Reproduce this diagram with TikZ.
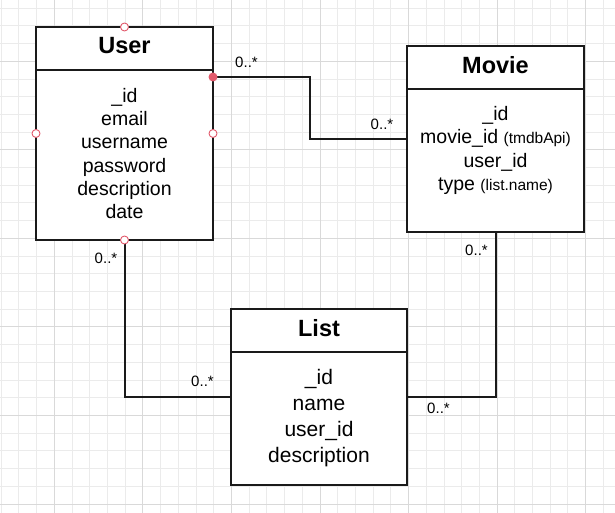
\documentclass[tikz,border=0pt]{standalone}
\usepackage{fontspec}
\setmainfont{Liberation Sans}
\definecolor{gridminor}{HTML}{EBEBEB}
\definecolor{gridmajor}{HTML}{D9D9D9}
\definecolor{linecol}{HTML}{1A1A1A}
\definecolor{portred}{HTML}{E25A6C}
\begin{document}
\begin{tikzpicture}[x=1pt,y=-1pt,
    headbox/.style={draw=linecol, line width=2pt, fill=white, minimum width=177pt,
      minimum height=43pt, inner sep=0pt, outer sep=0pt, text depth=6pt,
      font=\bfseries\fontsize{23.5}{28}\selectfont},
    attrbox/.style={draw=linecol, line width=2pt, fill=white, minimum width=177pt,
      inner sep=0pt, outer sep=0pt, anchor=north},
    attrlist/.style={align=center, inner sep=0pt, anchor=north},
    relline/.style={draw=linecol, line width=2pt},
    mult/.style={inner sep=0pt, font=\fontsize{15}{18}\selectfont},
    port/.style={circle, draw=portred, fill=white, line width=0.9pt, minimum size=8pt, inner sep=0pt},
    portdot/.style={circle, fill=portred, minimum size=9pt, inner sep=0pt}]
  \useasboundingbox (0,0) rectangle (615,513);
  \fill[white] (0,0) rectangle (615,513);
  % background grid
  \def\gridstep{17.71}
  \foreach \i in {0,...,34} {
    \draw[gridminor, line width=0.8pt] (1.17+\i*\gridstep, 0) -- (1.17+\i*\gridstep, 513);
  }
  \foreach \i in {0,...,28} {
    \draw[gridminor, line width=0.8pt] (0, 8.07+\i*\gridstep) -- (615, 8.07+\i*\gridstep);
  }
  \foreach \k in {0,...,6} {
    \draw[gridmajor, line width=0.8pt] (54.3+\k*5*\gridstep, 0) -- (54.3+\k*5*\gridstep, 513);
  }
  \foreach \k in {0,...,5} {
    \draw[gridmajor, line width=0.8pt] (0, 61.2+\k*5*\gridstep) -- (615, 61.2+\k*5*\gridstep);
  }

  % entities
  \node[headbox] (user) at (124.5,48.5) {User};
  \node[attrbox, minimum height=170pt] (userbody) at (user.south) {};
  \node[attrlist, font=\fontsize{19.5}{23.3}\selectfont] (userattr) at ([yshift=-18pt]userbody.north)
    {\_id\\email\\username\\password\\description\\date};

  \node[headbox] (movie) at (495.5,67.5) {Movie};
  \node[attrbox, minimum height=143pt] (moviebody) at (movie.south) {};
  \node[attrlist, font=\fontsize{19.5}{23.5}\selectfont] (movieattr) at ([yshift=-17pt]moviebody.north)
    {\_id\\movie\_id {\fontsize{15.5}{18}\selectfont (tmdbApi)}\\user\_id\\type {\fontsize{15.5}{18}\selectfont (list.name)}};

  \node[headbox, minimum width=176pt] (list) at (319,330.5) {List};
  \node[attrbox, minimum width=176pt, minimum height=133pt] (listbody) at (list.south) {};
  \node[attrlist, font=\fontsize{21}{26}\selectfont] (listattr) at ([yshift=-17pt]listbody.north)
    {\_id\\name\\user\_id\\description};

  % relations
  \coordinate (umv) at ([yshift=-7pt]userbody.north east);
  \coordinate (mvu) at ([yshift=-50pt]moviebody.north west);
  \coordinate (lsu) at ([yshift=-45pt]listbody.north west);
  \coordinate (lsm) at ([yshift=-45pt]listbody.north east);
  \draw[relline] (umv) -- ++(97,0) |- (mvu);
  \draw[relline] (userbody.south) |- (lsu);
  \draw[relline] (moviebody.south) |- (lsm);

  \node[mult] (m1) at (246.5,62.5) {0..*};
  \node[mult] (m2) at (382,124.5) {0..*};
  \node[mult] (m3) at (106,258) {0..*};
  \node[mult] (m4) at (202.5,381.5) {0..*};
  \node[mult] (m5) at (476.5,250) {0..*};
  \node[mult] (m6) at (438.5,408) {0..*};

  % connection points
  \node[port] (pt) at (user.north) {};
  \node[port] (pb) at (userbody.south) {};
  \node[port] (pl) at ([yshift=21.5pt]userbody.west) {};
  \node[port] (pr) at ([yshift=21.5pt]userbody.east) {};
  \node[portdot] (pd) at (umv) {};
\end{tikzpicture}
\end{document}
